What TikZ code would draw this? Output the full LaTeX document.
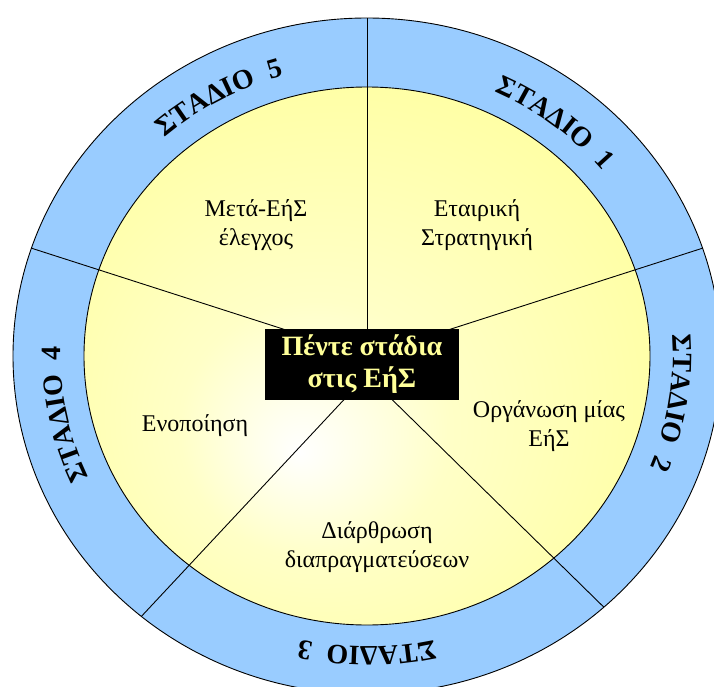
\documentclass[tikz,border=0pt]{standalone}
\usepackage{fontspec}
\setmainfont{Liberation Serif}
\usetikzlibrary{decorations.text}

\definecolor{ringblue}{HTML}{99CCFF}
\definecolor{paleyellow}{HTML}{FFFF99}
\pgfdeclareradialshading{glow}{\pgfpoint{-6bp}{-9bp}}{color(0bp)=(white); color(12bp)=(white!45!paleyellow); color(36bp)=(paleyellow); color(50bp)=(paleyellow)}

\begin{document}
\begin{tikzpicture}[x=1pt, y=1pt, line width=0.9pt,
  every node/.style={align=center, font=\fontsize{24}{29}\selectfont},
  hubbox/.style={fill=black, text=paleyellow, inner sep=0pt, minimum width=193pt, minimum height=71pt, font=\bfseries\fontsize{28}{32}\selectfont},
  stagetext/.style={decorate, decoration={text along path, text align=center, text={|\bfseries\fontsize{28}{28}\selectfont|#1}}}]
  \useasboundingbox (-367,-330) rectangle (347,356);
  \clip (-367,-330) rectangle (347,356);

  % ring and inner disc
  \filldraw[fill=ringblue] (0,0) ellipse [x radius=354, y radius=338];
  \shadedraw[shading=glow] (0,0) ellipse [x radius=283, y radius=269];

  % spokes
  \coordinate (hub) at (0,0);
  \coordinate (hublow) at (0,-19);
  \coordinate (rim1) at (90:354 and 338);
  \coordinate (rim2) at (18.6:354 and 338);
  \coordinate (rim3) at (-48:354 and 338);
  \coordinate (rim4) at (-129.6:354 and 338);
  \coordinate (rim5) at (161.4:354 and 338);
  \draw (hub) -- (rim1);
  \draw (hub) -- (rim2);
  \draw (hublow) -- (rim3);
  \draw (hublow) -- (rim4);
  \draw (hub) -- (rim5);

  % stage labels on the ring
  \path[stagetext={ΣΤΑΔΙΟ ~1}] (96.8:306 and 291) arc[start angle=96.8, end angle=6.8, x radius=306, y radius=291];
  \path[stagetext={ΣΤΑΔΙΟ ~2}] (36.1:306 and 291) arc[start angle=36.1, end angle=-53.9, x radius=306, y radius=291];
  \path[stagetext={ΣΤΑΔΙΟ ~3}] (-45:306 and 291) arc[start angle=-45, end angle=-135, x radius=306, y radius=291];
  \path[stagetext={ΣΤΑΔΙΟ ~4}] (236.1:306 and 291) arc[start angle=236.1, end angle=146.1, x radius=306, y radius=291];
  \path[stagetext={ΣΤΑΔΙΟ ~5}] (164.2:306 and 291) arc[start angle=164.2, end angle=74.2, x radius=306, y radius=291];

  % sector texts
  \node (strategy) at (110,131) {Εταιρική\\Στρατηγική};
  \node (organise) at (182,-70) {Οργάνωση μίας\\ΕήΣ};
  \node (negotiate) at (10,-191) {Διάρθρωση\\διαπραγματεύσεων};
  \node (integrate) at (-172,-70) {Ενοποίηση};
  \node (review) at (-111,131) {Μετά-ΕήΣ\\έλεγχος};

  \node[hubbox] (title) at (-5,-8.3) {Πέντε στάδια\\στις ΕήΣ};
\end{tikzpicture}
\end{document}
